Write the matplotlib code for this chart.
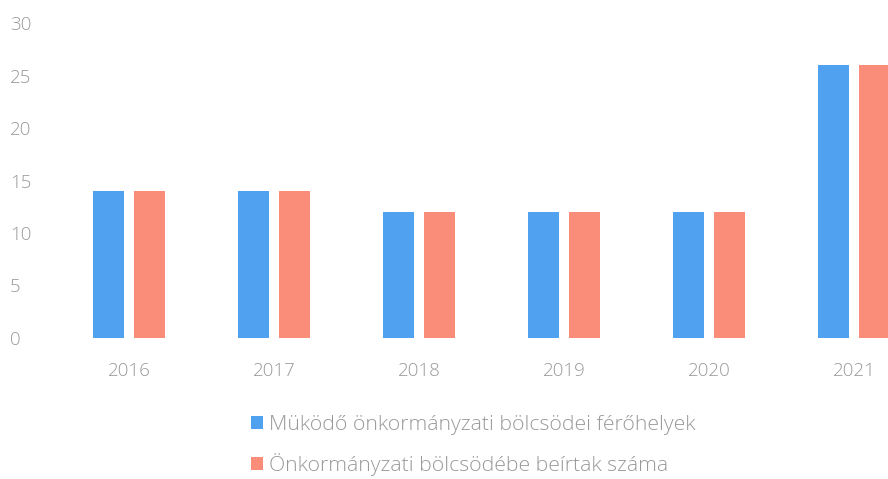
import numpy as np
import matplotlib.pyplot as plt
import matplotlib.transforms as mtransforms

years = ['2016', '2017', '2018', '2019', '2020', '2021']
ferohelyek = [14, 14, 12, 12, 12, 26]
beirtak = [14, 14, 12, 12, 12, 26]
labels = ['Müködő önkormányzati bölcsödei férőhelyek',
          'Önkormányzati bölcsödébe beírtak száma']

blue = '#50a2f0'
salmon = '#fa8c7a'
grey = '#999999'

plt.rcParams['font.family'] = ['Open Sans', 'DejaVu Sans']

fig = plt.figure(figsize=(8.88, 4.79), dpi=100)
ax = fig.add_axes([40 / 888, 141 / 479, 848 / 888, 315 / 479])

x = np.arange(len(years))
w = 31 / 145
off = 20.5 / 145
ax.bar(x - off, ferohelyek, w, color=blue, label=labels[0])
ax.bar(x + off, beirtak, w, color=salmon, label=labels[1])

ax.set_xlim(-89 / 145, 759 / 145)
ax.set_ylim(0, 30)
ax.set_yticks(range(0, 31, 5))
ax.set_xticks(x)
ax.set_xticklabels(years)
for s in ax.spines.values():
    s.set_visible(False)
ax.tick_params(length=0, colors=grey, labelsize=13.5)
ax.tick_params(axis='x', pad=17)
ax.tick_params(axis='y', pad=0)
for t in ax.get_yticklabels() + ax.get_xticklabels():
    t.set_fontweight('light')

# y labels are left aligned near the figure edge
shift = mtransforms.ScaledTranslation(-30 / 100, 0, fig.dpi_scale_trans)
for lab in ax.get_yticklabels():
    lab.set_horizontalalignment('left')
    lab.set_x(0)
    lab.set_transform(lab.get_transform() + shift)

leg = fig.legend(loc='upper left', bbox_to_anchor=(232 / 888, 1 - 396 / 479),
                 ncol=1, frameon=False, handlelength=0.55, handleheight=0.55,
                 handletextpad=0.3, labelspacing=0.85, labelcolor=grey,
                 prop={'weight': 'light', 'size': 15.3})
fig.savefig('out.png', dpi=100)
